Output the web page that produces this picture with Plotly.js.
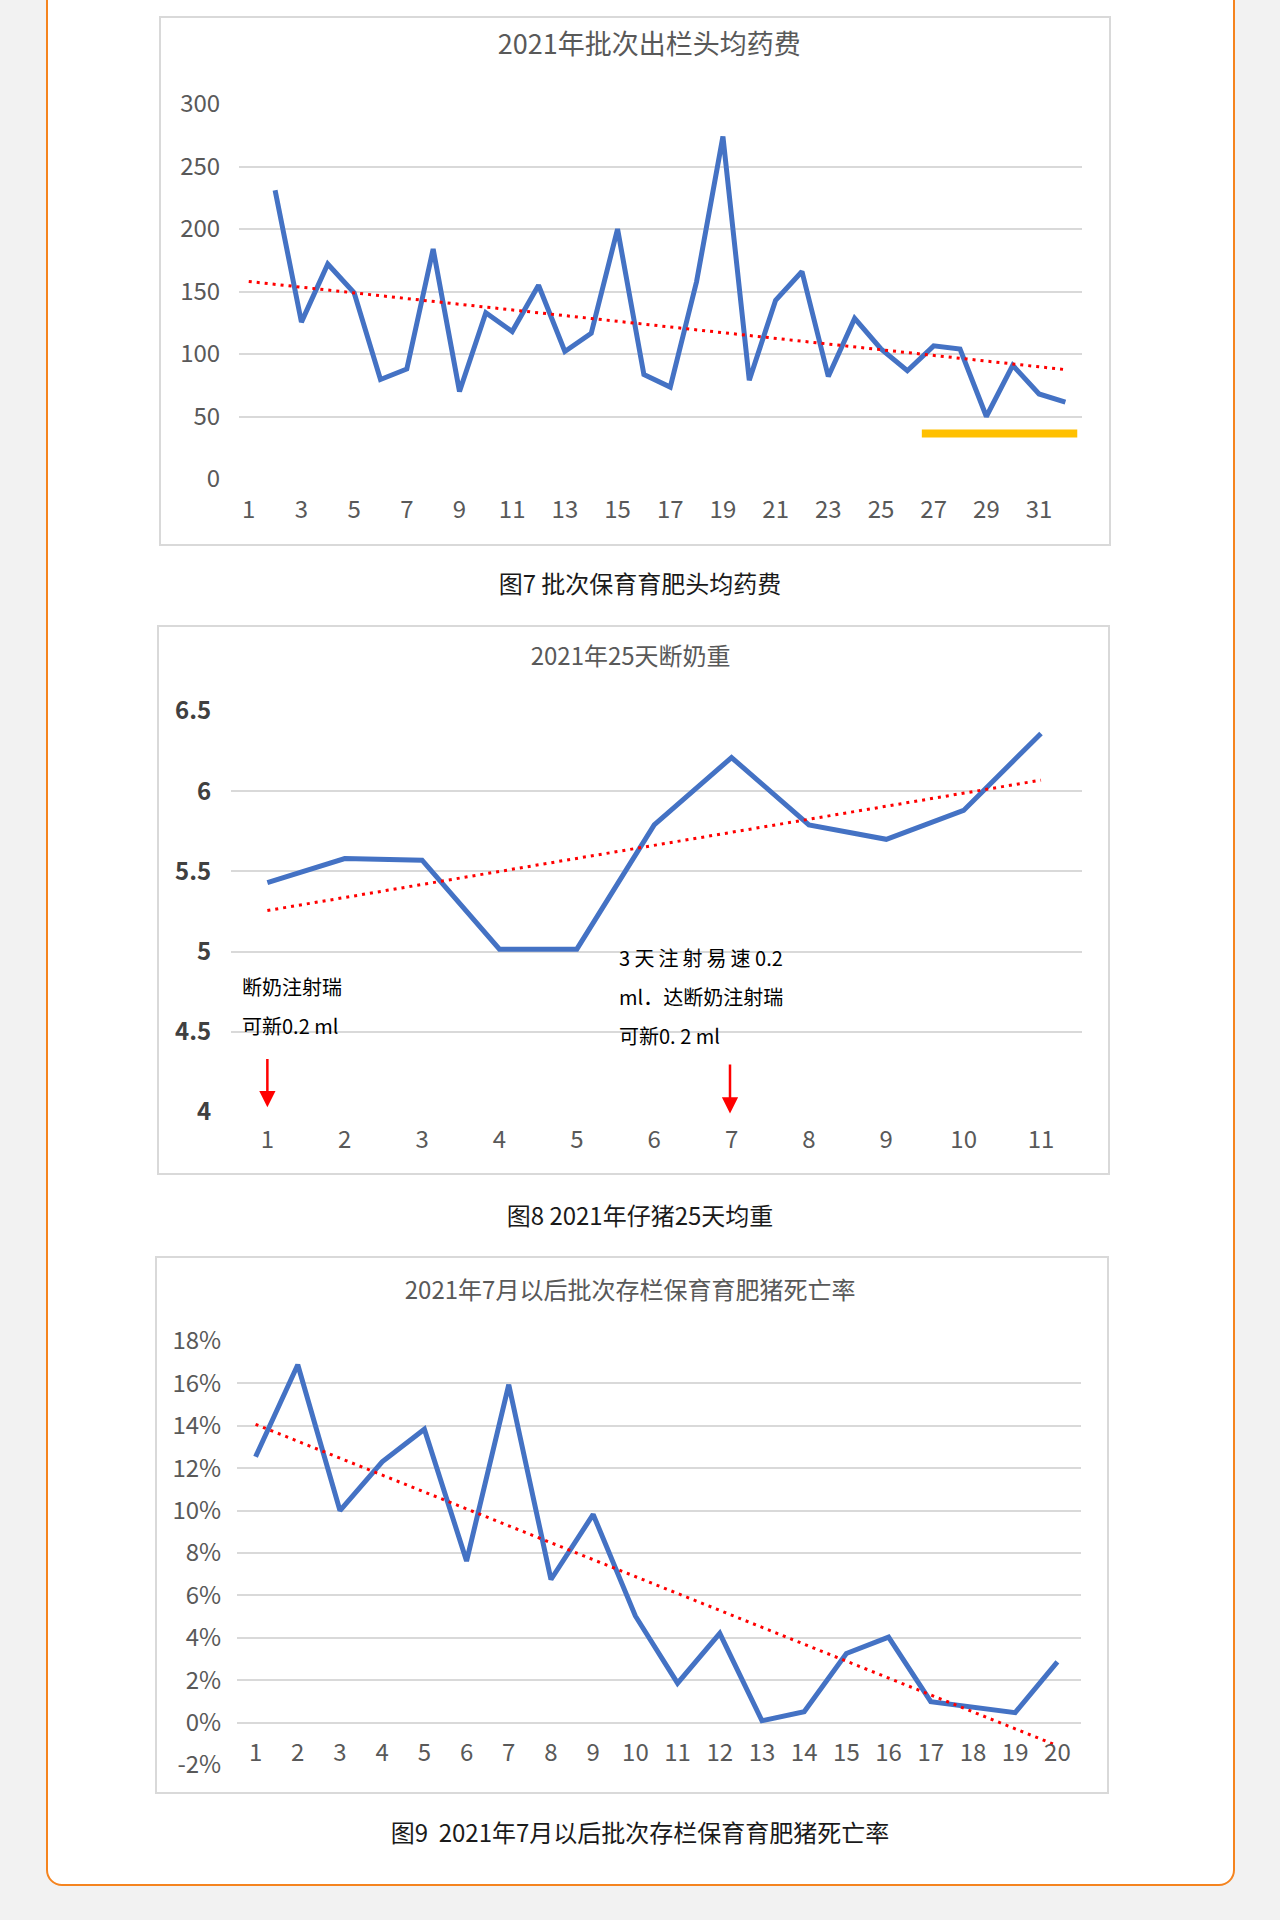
<!DOCTYPE html>
<html>
<head>
<meta charset="utf-8">
<script src="https://cdn.plot.ly/plotly-3.0.1.min.js"></script>
<style>
  body { margin: 0; background: #f2f2f2; width: 1280px; height: 1920px; position: relative; overflow: hidden;
         font-family: 'Noto Sans CJK SC', 'Noto Sans', sans-serif; }
  .card { position: absolute; left: 46px; top: -40px; width: 1185px; height: 1922px;
          border: 2px solid #f5841f; border-radius: 16px; background: #fff; }
  .chart { position: absolute; border: 2px solid #d9d9d9; background: #fff; }
  .caption { position: absolute; left: 0; width: 1280px; text-align: center;
             font-size: 24px; line-height: 30px; color: #1a1a1a; }
</style>
</head>
<body>
<div class="card"></div>

<div id="chart-cost" class="chart" style="left:159px; top:16px; width:948px; height:526px;"></div>
<div class="caption" style="top:568px;">图7 批次保育育肥头均药费</div>

<div id="chart-wean" class="chart" style="left:157px; top:625px; width:949px; height:546px;"></div>
<div class="caption" style="top:1200px;">图8 2021年仔猪25天均重</div>

<div id="chart-mort" class="chart" style="left:155px; top:1256px; width:950px; height:534px;"></div>
<div class="caption" style="top:1817px;">图9&nbsp;&nbsp;2021年7月以后批次存栏保育育肥猪死亡率</div>

<script>
// --- Data: chart 7, average medicine cost per head by batch ---
const costBatches = Array.from({ length: 32 }, (_, i) => i + 1);
const costValues = [null, 231, 125.5, 172, 149, 79.6, 88, 184, 70, 133, 118, 155, 102, 116.6, 200, 83.5,
  73.5, 158, 274, 79, 143, 166, 82, 128.5, 104, 86.6, 106.5, 104, 50, 91, 68, 61.5];
const costTrendX = [1, 32];
const costTrendY = [158, 87.5];
const costTicks = [1, 3, 5, 7, 9, 11, 13, 15, 17, 19, 21, 23, 25, 27, 29, 31];
const costHighlight = [26.55, 32.45];

// --- Data: chart 8, 25-day weaning weight ---
const weanBatches = [1, 2, 3, 4, 5, 6, 7, 8, 9, 10, 11];
const weanValues = [5.43, 5.58, 5.57, 5.015, 5.015, 5.79, 6.21, 5.79, 5.70, 5.88, 6.36];
const weanTrendX = [1, 11];
const weanTrendY = [5.256, 6.069];
const weanTicks = [4, 4.5, 5, 5.5, 6, 6.5];
const weanTickText = ['4', '4.5', '5', '5.5', '6', '6.5'];

// --- Data: chart 9, mortality after July ---
const mortBatches = Array.from({ length: 20 }, (_, i) => i + 1);
const mortValues = [0.1254, 0.1688, 0.100, 0.123, 0.1384, 0.0762, 0.1594, 0.0675, 0.0982, 0.0503,
  0.0186, 0.0421, 0.0009, 0.0051, 0.0326, 0.0403, 0.0099, 0.0072, 0.0047, 0.0286];
const mortTrendX = [1, 20];
const mortTrendY = [0.1407, -0.0109];
const mortTicks = [-0.02, 0, 0.02, 0.04, 0.06, 0.08, 0.10, 0.12, 0.14, 0.16, 0.18];
const mortTickText = ['-2%', '0%', '2%', '4%', '6%', '8%', '10%', '12%', '14%', '16%', '18%'];

// --- Styles ---
const FONT = "'Noto Sans CJK SC', 'Noto Sans', sans-serif";
const GRAY = '#595959';
const GRID = '#d9d9d9';
const BLUE = '#4472c4';
const RED = '#ff0000';
const CONFIG = { displayModeBar: false, staticPlot: true };

function lineTrace(x, y) {
  return { x: x, y: y, type: 'scatter', mode: 'lines', connectgaps: false,
    line: { color: BLUE, width: 5 }, hoverinfo: 'skip' };
}

function trendTrace(x, y) {
  return { x: x, y: y, type: 'scatter', mode: 'lines',
    line: { color: RED, width: 3, dash: '3px,5px' }, hoverinfo: 'skip' };
}

function xAxis(range, extra) {
  return Object.assign({
    range: range, showgrid: false, zeroline: false, showline: false,
    ticks: 'outside', ticklen: 9, tickcolor: 'rgba(0,0,0,0)',
    tickfont: { family: FONT, size: 24, color: GRAY }, fixedrange: true
  }, extra || {});
}

function yAxis(extra) {
  return Object.assign({
    showgrid: true, gridcolor: GRID, gridwidth: 2, zeroline: false, showline: false,
    ticks: 'outside', ticklen: 13, tickcolor: 'rgba(0,0,0,0)',
    tickfont: { family: FONT, size: 24, color: GRAY }, fixedrange: true
  }, extra || {});
}

function titleOf(text, x, y, size) {
  return { text: text, x: x, xref: 'container', xanchor: 'center', y: y, yref: 'container', yanchor: 'middle',
    font: { family: FONT, size: size, color: GRAY } };
}

// --- Chart 7 ---
Plotly.newPlot('chart-cost', [
  lineTrace(costBatches, costValues),
  trendTrace(costTrendX, costTrendY)
], {
  width: 948, height: 526,
  margin: { l: 78, r: 27, t: 86, b: 65 },
  paper_bgcolor: '#fff', plot_bgcolor: '#fff', showlegend: false,
  title: titleOf('2021年批次出栏头均药费', 0.515, 1 - 27 / 526, 27),
  xaxis: xAxis([0.63, 32.63], { tickmode: 'array', tickvals: costTicks }),
  yaxis: yAxis({ range: [0, 300], dtick: 50 }),
  shapes: [{
    type: 'rect', xref: 'x', yref: 'y', x0: costHighlight[0], x1: costHighlight[1], y0: 33.3, y1: 39.7,
    fillcolor: '#ffc000', line: { width: 0 }, layer: 'above'
  }]
}, CONFIG);

// --- Chart 8 ---
const noteFont = { family: FONT, size: 20, color: '#000' };
function note(text, x, y) {
  return { text: text, x: x, y: y, xref: 'x', yref: 'y', xanchor: 'left', yanchor: 'middle',
    showarrow: false, font: noteFont };
}
function downArrow(x, yHead, yTail) {
  return { text: '', x: x, y: yHead, ax: x, ay: yTail, xref: 'x', yref: 'y', axref: 'x', ayref: 'y',
    showarrow: true, arrowhead: 2, arrowsize: 1.3, arrowwidth: 2.5, arrowcolor: RED };
}

Plotly.newPlot('chart-wean', [
  lineTrace(weanBatches, weanValues),
  trendTrace(weanTrendX, weanTrendY)
], {
  width: 949, height: 546,
  margin: { l: 72, r: 26, t: 84, b: 61 },
  paper_bgcolor: '#fff', plot_bgcolor: '#fff', showlegend: false,
  title: titleOf('2021年25天断奶重', 0.497, 1 - 30 / 546, 24),
  xaxis: xAxis([0.53, 11.53], { tickmode: 'array', tickvals: weanBatches, ticklen: 6 }),
  yaxis: yAxis({ range: [4, 6.5], tickmode: 'array', tickvals: weanTicks, ticktext: weanTickText, ticklen: 14,
    tickfont: { family: FONT, size: 24, color: '#404040', weight: 700 } }),
  annotations: [
    note('断奶注射瑞', 0.64, 4.78),
    note('可新0.2 ml', 0.64, 4.54),
    note('3 天\u2009注\u2009射\u2009易\u2009速 0.2', 5.52, 4.966),
    note('ml．达断奶注射瑞', 5.52, 4.717),
    note('可新0. 2 ml', 5.52, 4.48),
    downArrow(1, 4.03, 4.34),
    downArrow(6.98, 3.99, 4.306)
  ]
}, CONFIG);

// --- Chart 9 ---
Plotly.newPlot('chart-mort', [
  lineTrace(mortBatches, mortValues),
  trendTrace(mortTrendX, mortTrendY)
], {
  width: 950, height: 534,
  margin: { l: 80, r: 26, t: 83, b: 27 },
  paper_bgcolor: '#fff', plot_bgcolor: '#fff', showlegend: false,
  title: titleOf('2021年7月以后批次存栏保育育肥猪死亡率', 0.498, 1 - 33 / 534, 24),
  xaxis: xAxis([0.56, 20.56], { tickmode: 'array', tickvals: mortBatches, anchor: 'free', position: 0.1 }),
  yaxis: yAxis({ range: [-0.02, 0.18], tickmode: 'array', tickvals: mortTicks, ticktext: mortTickText, ticklen: 10 })
}, CONFIG);
</script>
</body>
</html>
